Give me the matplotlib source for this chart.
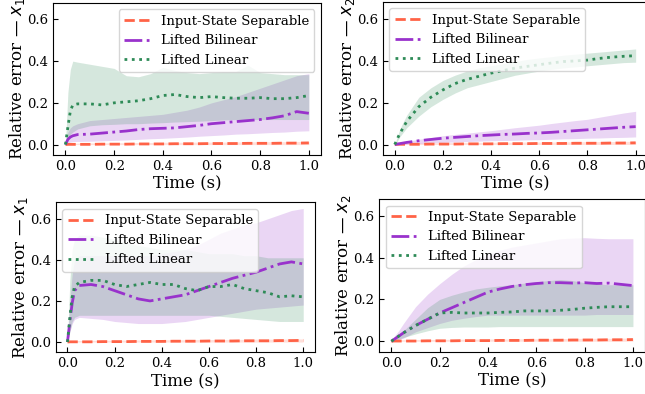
import matplotlib
matplotlib.use("Agg")
import matplotlib.pyplot as plt
import numpy as np

plt.rcParams['font.family'] = 'DejaVu Serif'
plt.rcParams['mathtext.fontset'] = 'dejavusans'

# common time grid (s)
t = [0.0, 0.01, 0.02, 0.03, 0.05, 0.1, 0.15, 0.2, 0.25, 0.3, 0.35, 0.4, 0.45,
     0.5, 0.55, 0.6, 0.65, 0.7, 0.75, 0.8, 0.85, 0.9, 0.95, 1.0]

labels = ['Input-State Separable', 'Lifted Bilinear', 'Lifted Linear']
colors = ['#ff6347', '#9932cc', '#2e8b57']
styles = ['--', '-.', ':']

# input-state separable is nearly the same in every panel
sep_mean = [0.0, 0.001, 0.001, 0.001, 0.001, 0.001, 0.002, 0.002, 0.002, 0.003, 0.003, 0.003, 0.004,
            0.004, 0.004, 0.005, 0.005, 0.005, 0.006, 0.006, 0.006, 0.007, 0.007, 0.008]
sep_low = [0.0] * 24
sep_high = [0.0, 0.004, 0.005, 0.006, 0.007, 0.008, 0.008, 0.009, 0.009, 0.01, 0.01, 0.011, 0.011,
            0.011, 0.012, 0.012, 0.012, 0.013, 0.013, 0.014, 0.014, 0.014, 0.015, 0.015]

# panel 1: x1, top-left
bil1_mean = [0.0, 0.025, 0.036, 0.042, 0.048, 0.05, 0.055, 0.06, 0.065, 0.072, 0.076, 0.078, 0.08,
             0.086, 0.092, 0.1, 0.105, 0.11, 0.115, 0.12, 0.128, 0.138, 0.158, 0.15]
bil1_low = [0.0, 0.008, 0.012, 0.014, 0.015, 0.016, 0.018, 0.02, 0.022, 0.025, 0.028, 0.03, 0.033,
            0.036, 0.04, 0.043, 0.046, 0.05, 0.052, 0.055, 0.058, 0.06, 0.064, 0.066]
bil1_high = [0.0, 0.06, 0.08, 0.09, 0.1, 0.115, 0.12, 0.125, 0.13, 0.135, 0.14, 0.145, 0.155,
             0.165, 0.18, 0.2, 0.215, 0.23, 0.25, 0.27, 0.29, 0.31, 0.33, 0.34]
lin1_mean = [0.0, 0.085, 0.16, 0.19, 0.195, 0.195, 0.19, 0.2, 0.205, 0.21, 0.22, 0.235, 0.24,
             0.23, 0.225, 0.23, 0.225, 0.222, 0.222, 0.225, 0.22, 0.22, 0.225, 0.235]
lin1_low = [0.0, 0.03, 0.05, 0.06, 0.075, 0.09, 0.095, 0.097, 0.1, 0.1, 0.103, 0.105, 0.108,
            0.11, 0.112, 0.115, 0.118, 0.12, 0.12, 0.12, 0.12, 0.12, 0.12, 0.12]
lin1_high = [0.0, 0.25, 0.36, 0.4, 0.395, 0.385, 0.375, 0.365, 0.33, 0.325, 0.34, 0.37, 0.355,
             0.345, 0.34, 0.345, 0.35, 0.35, 0.38, 0.345, 0.34, 0.335, 0.335, 0.335]

# panel 2: x2, top-right
bil2_mean = [0.0, 0.002, 0.004, 0.006, 0.01, 0.018, 0.024, 0.03, 0.034, 0.038, 0.042, 0.045, 0.048,
             0.05, 0.053, 0.055, 0.058, 0.062, 0.066, 0.07, 0.074, 0.078, 0.082, 0.085]
bil2_low = [0.0, 0.0, 0.001, 0.002, 0.003, 0.005, 0.008, 0.01, 0.012, 0.014, 0.016, 0.018, 0.019,
            0.02, 0.022, 0.023, 0.025, 0.027, 0.028, 0.03, 0.031, 0.033, 0.034, 0.036]
bil2_high = [0.0, 0.004, 0.007, 0.01, 0.015, 0.025, 0.033, 0.042, 0.048, 0.054, 0.06, 0.066, 0.073,
             0.08, 0.086, 0.092, 0.1, 0.107, 0.114, 0.12, 0.13, 0.14, 0.15, 0.158]
lin2_mean = [0.0, 0.025, 0.05, 0.07, 0.11, 0.18, 0.225, 0.26, 0.29, 0.31, 0.325, 0.34, 0.352,
             0.364, 0.372, 0.38, 0.388, 0.395, 0.398, 0.402, 0.41, 0.416, 0.42, 0.423]
lin2_low = [0.0, 0.015, 0.035, 0.05, 0.08, 0.135, 0.18, 0.215, 0.245, 0.27, 0.285, 0.3, 0.315,
            0.33, 0.34, 0.35, 0.358, 0.365, 0.37, 0.375, 0.38, 0.385, 0.39, 0.392]
lin2_high = [0.0, 0.035, 0.07, 0.095, 0.14, 0.225, 0.27, 0.305, 0.33, 0.35, 0.365, 0.375, 0.385,
             0.395, 0.405, 0.412, 0.418, 0.425, 0.43, 0.435, 0.44, 0.445, 0.45, 0.455]

# panel 3: x1, bottom-left
bil3_mean = [0.0, 0.1, 0.19, 0.25, 0.275, 0.28, 0.27, 0.25, 0.23, 0.21, 0.2, 0.21, 0.22,
             0.23, 0.25, 0.27, 0.29, 0.31, 0.325, 0.34, 0.36, 0.38, 0.39, 0.38]
bil3_low = [0.0, 0.05, 0.09, 0.11, 0.12, 0.115, 0.11, 0.1, 0.095, 0.09, 0.09, 0.09, 0.095,
            0.1, 0.11, 0.12, 0.13, 0.14, 0.15, 0.16, 0.165, 0.17, 0.175, 0.18]
bil3_high = [0.0, 0.2, 0.33, 0.4, 0.42, 0.42, 0.42, 0.42, 0.42, 0.42, 0.42, 0.43, 0.44,
             0.45, 0.47, 0.5, 0.53, 0.55, 0.57, 0.58, 0.6, 0.62, 0.64, 0.65]
lin3_mean = [0.0, 0.12, 0.22, 0.27, 0.29, 0.3, 0.3, 0.28, 0.27, 0.28, 0.29, 0.28, 0.28,
             0.26, 0.25, 0.27, 0.27, 0.28, 0.26, 0.25, 0.24, 0.22, 0.225, 0.22]
lin3_low = [0.0, 0.05, 0.1, 0.12, 0.13, 0.13, 0.13, 0.13, 0.13, 0.13, 0.13, 0.13, 0.13,
            0.13, 0.13, 0.13, 0.125, 0.12, 0.115, 0.11, 0.105, 0.1, 0.1, 0.1]
lin3_high = [0.0, 0.3, 0.45, 0.5, 0.52, 0.52, 0.51, 0.5, 0.48, 0.47, 0.46, 0.45, 0.45,
             0.45, 0.44, 0.43, 0.43, 0.43, 0.42, 0.42, 0.41, 0.41, 0.41, 0.41]

# panel 4: x2, bottom-right
bil4_mean = [0.0, 0.008, 0.016, 0.024, 0.04, 0.075, 0.105, 0.135, 0.16, 0.185, 0.21, 0.235, 0.25,
             0.262, 0.27, 0.276, 0.28, 0.28, 0.278, 0.28, 0.276, 0.278, 0.272, 0.266]
bil4_low = [0.0, 0.002, 0.005, 0.008, 0.015, 0.045, 0.065, 0.085, 0.1, 0.11, 0.118, 0.125, 0.125,
            0.125, 0.125, 0.125, 0.125, 0.125, 0.125, 0.125, 0.128, 0.128, 0.128, 0.128]
bil4_high = [0.0, 0.02, 0.035, 0.05, 0.085, 0.165, 0.225, 0.275, 0.32, 0.36, 0.39, 0.415, 0.435,
             0.45, 0.46, 0.47, 0.48, 0.49, 0.493, 0.495, 0.492, 0.49, 0.49, 0.49]
lin4_mean = [0.0, 0.008, 0.016, 0.024, 0.04, 0.075, 0.105, 0.135, 0.138, 0.135, 0.135, 0.135, 0.138,
             0.14, 0.145, 0.145, 0.145, 0.148, 0.152, 0.158, 0.162, 0.165, 0.165, 0.165]
lin4_low = [0.0, 0.003, 0.006, 0.01, 0.018, 0.035, 0.05, 0.062, 0.066, 0.068, 0.068, 0.068, 0.07,
            0.07, 0.07, 0.07, 0.07, 0.07, 0.07, 0.07, 0.07, 0.07, 0.07, 0.07]
lin4_high = [0.0, 0.01, 0.02, 0.03, 0.05, 0.105, 0.16, 0.2, 0.22, 0.236, 0.25, 0.258, 0.265,
             0.27, 0.278, 0.285, 0.29, 0.295, 0.29, 0.28, 0.275, 0.27, 0.27, 0.27]

panels = [
    ([sep_mean, bil1_mean, lin1_mean], [sep_low, bil1_low, lin1_low],
     [sep_high, bil1_high, lin1_high], r'Relative error — $x_1$', 'upper right'),
    ([sep_mean, bil2_mean, lin2_mean], [sep_low, bil2_low, lin2_low],
     [sep_high, bil2_high, lin2_high], r'Relative error — $x_2$', 'upper left'),
    ([sep_mean, bil3_mean, lin3_mean], [sep_low, bil3_low, lin3_low],
     [sep_high, bil3_high, lin3_high], r'Relative error — $x_1$', 'upper left'),
    ([sep_mean, bil4_mean, lin4_mean], [sep_low, bil4_low, lin4_low],
     [sep_high, bil4_high, lin4_high], r'Relative error — $x_2$', 'upper left'),
]

# axes boxes in pixels: left, top, right, bottom
W, H = 645, 394
boxes = [(53.3, 2.7, 321, 155), (382.7, 1.7, 647.7, 155),
         (55.7, 202.3, 315, 352.3), (379.3, 199, 645, 351.7)]

fig = plt.figure(figsize=(6.45, 3.94), dpi=100)
for (means, lows, highs, ylab, loc), (l, tp, r, b) in zip(panels, boxes):
    ax = fig.add_axes([l / W, 1 - b / H, (r - l) / W, (b - tp) / H])
    for m, lo, hi, c, ls, lab in zip(means, lows, highs, colors, styles, labels):
        ax.fill_between(t, lo, hi, color=c, alpha=0.2, linewidth=0)
        ax.plot(t, m, ls, color=c, lw=2, label=lab)
    ax.set_xlim(-0.05, 1.05)
    ax.set_ylim(-0.05, 0.68)
    ax.set_xticks(np.arange(0, 1.01, 0.2))
    ax.set_yticks([0.0, 0.2, 0.4, 0.6])
    ax.tick_params(direction='in', labelsize=9.5)
    ax.set_xlabel('Time (s)', fontsize=12, labelpad=2)
    ax.set_ylabel(ylab, fontsize=12, labelpad=0)
    ax.legend(loc=loc, fontsize=9.5)

fig.savefig('out.png', dpi=100)
